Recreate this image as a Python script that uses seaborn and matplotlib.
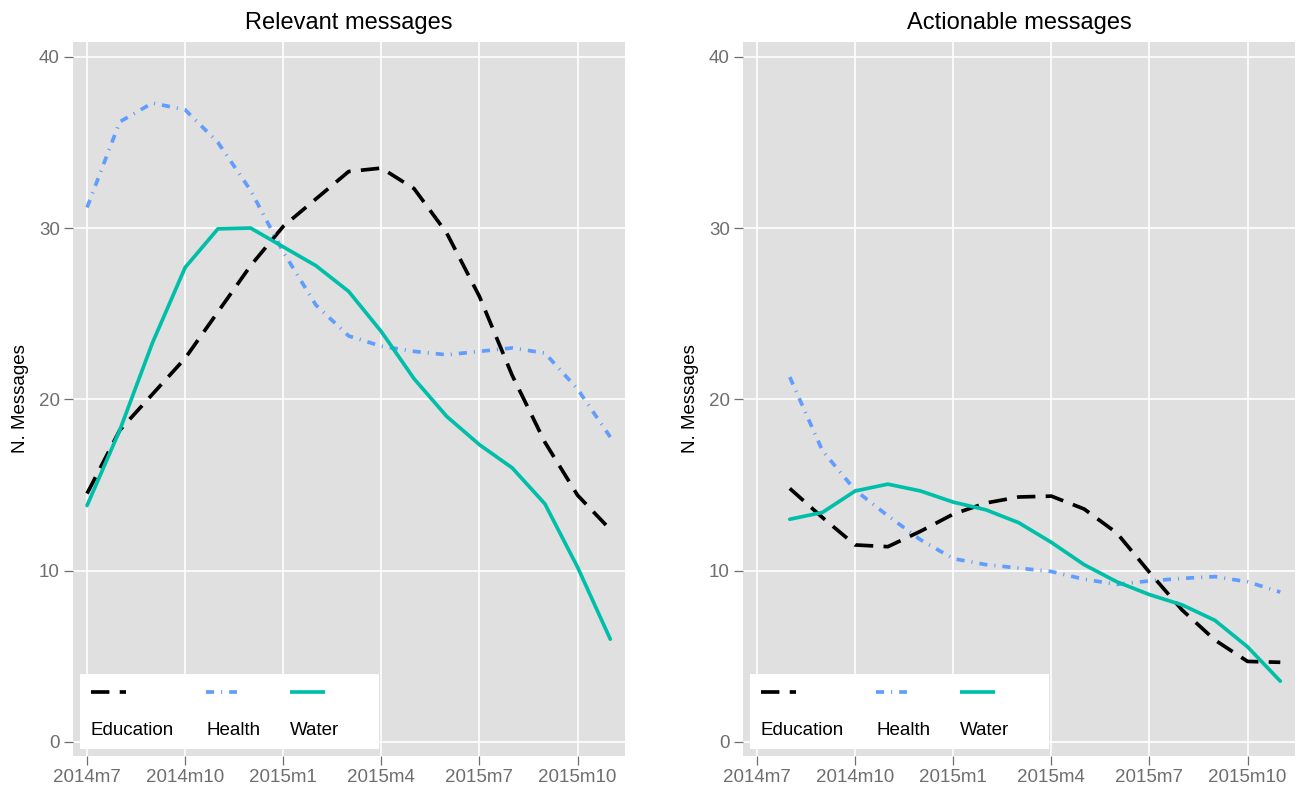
import matplotlib
matplotlib.use("Agg")
import matplotlib.pyplot as plt
import seaborn as sns
import pandas as pd
from matplotlib.patches import Rectangle
from matplotlib.lines import Line2D

months = ["2014m7", "2014m8", "2014m9", "2014m10", "2014m11", "2014m12",
          "2015m1", "2015m2", "2015m3", "2015m4", "2015m5", "2015m6",
          "2015m7", "2015m8", "2015m9", "2015m10", "2015m11"]
tick_labels = ["2014m7", "2014m10", "2015m1", "2015m4", "2015m7", "2015m10"]
topics = ["Education", "Health", "Water"]
panel_titles = ["Relevant messages", "Actionable messages"]

# Relevant messages (2014m7 .. 2015m11)
edu_rel = [14.5, 18.2, 20.3, 22.4, 25.1, 27.8, 30.1, 31.7, 33.3, 33.5, 32.3, 29.7, 26.0, 21.4, 17.5, 14.4, 12.4]
health_rel = [31.2, 36.2, 37.3, 36.9, 35.0, 32.2, 28.6, 25.5, 23.7, 23.1, 22.8, 22.6, 22.8, 23.0, 22.7, 20.6, 17.8]
water_rel = [13.8, 18.2, 23.3, 27.7, 29.95, 30.0, 28.9, 27.8, 26.3, 23.95, 21.2, 19.0, 17.35, 16.0, 13.9, 10.2, 6.0]

# Actionable messages (2014m8 .. 2015m11)
edu_act = [14.8, 13.1, 11.5, 11.4, 12.3, 13.3, 13.95, 14.3, 14.35, 13.6, 12.2, 9.9, 7.7, 5.95, 4.7, 4.65]
health_act = [21.3, 17.0, 14.7, 13.2, 11.8, 10.7, 10.35, 10.15, 9.95, 9.5, 9.2, 9.4, 9.55, 9.65, 9.35, 8.75]
water_act = [13.0, 13.4, 14.65, 15.05, 14.65, 14.0, 13.55, 12.8, 11.65, 10.35, 9.35, 8.6, 8.0, 7.1, 5.55, 3.55]

colors = {"Education": "#000000", "Health": "#619CFF", "Water": "#00BFA8"}
dash_map = {"Education": (5.0, 2.8), "Health": (2.2, 1.9, 0.3, 1.9), "Water": ""}


def long_df(series, start):
    rows = []
    for topic, vals in zip(topics, series):
        for i, v in enumerate(vals):
            rows.append({"month": months[start + i], "x": start + i,
                         "topic": topic, "value": v})
    return pd.DataFrame(rows)


dfs = [long_df([edu_rel, health_rel, water_rel], 0),
       long_df([edu_act, health_act, water_act], 1)]

sns.set_theme(style="darkgrid")
plt.rcParams["font.family"] = ["Liberation Sans", "DejaVu Sans"]

fig = plt.figure(figsize=(12.97, 7.89), dpi=100)
fig.patch.set_facecolor("white")
lefts = [73 / 1297, 743 / 1297]
W = 552 / 1297
B = 33 / 789
H = 714 / 789
LW = 2.65
tick_color = "#6E6E6E"

for k, (df, title) in enumerate(zip(dfs, panel_titles)):
    ax = fig.add_axes([lefts[k], B, W, H])
    ax.set_facecolor("#E0E0E0")
    sns.lineplot(data=df, x="x", y="value", hue="topic", style="topic",
                 palette=colors, dashes=dash_map, linewidth=LW, ax=ax,
                 legend=False, sort=False)
    ax.set_xlim(-0.43, 16.45)
    ax.set_ylim(-0.82, 40.86)
    ax.set_xticks([months.index(t) for t in tick_labels])
    ax.set_xticklabels(tick_labels)
    ax.set_yticks([0, 10, 20, 30, 40])
    ax.grid(True, color="white", linewidth=1.2)
    ax.set_axisbelow(True)
    for s in ax.spines.values():
        s.set_visible(False)
    ax.tick_params(axis="both", which="major", length=6.5, width=0.9,
                   color=tick_color, labelcolor=tick_color, labelsize=13.5,
                   direction="out", pad=3, bottom=True, left=True)
    ax.set_xlabel("")
    ax.set_ylabel("N. Messages", fontsize=13.5, color="black")
    ax.yaxis.set_label_coords(-0.079, 0.5)
    ax.set_title(title, fontsize=17, color="black", pad=9)

    # legend box (keys above labels)
    ax.add_patch(Rectangle((0.0127, 0.0098), 0.5413, 0.105, transform=ax.transAxes,
                           facecolor="white", edgecolor="none", zorder=5))
    key_x = [(0.0326, 0.0960), (0.241, 0.297), (0.393, 0.457)]
    for topic, (x0, x1) in zip(topics, key_x):
        d = dash_map[topic]
        ln = Line2D([x0, x1], [0.0896, 0.0896], transform=ax.transAxes,
                    color=colors[topic], linewidth=LW, zorder=6,
                    solid_capstyle="butt")
        if d:
            ln.set_dashes(d)
        ax.add_line(ln)
        ax.text(x0, 0.0364, topic, transform=ax.transAxes, fontsize=13.5,
                color="black", va="center", ha="left", zorder=6)

fig.savefig("out.png", dpi=100, facecolor="white")
